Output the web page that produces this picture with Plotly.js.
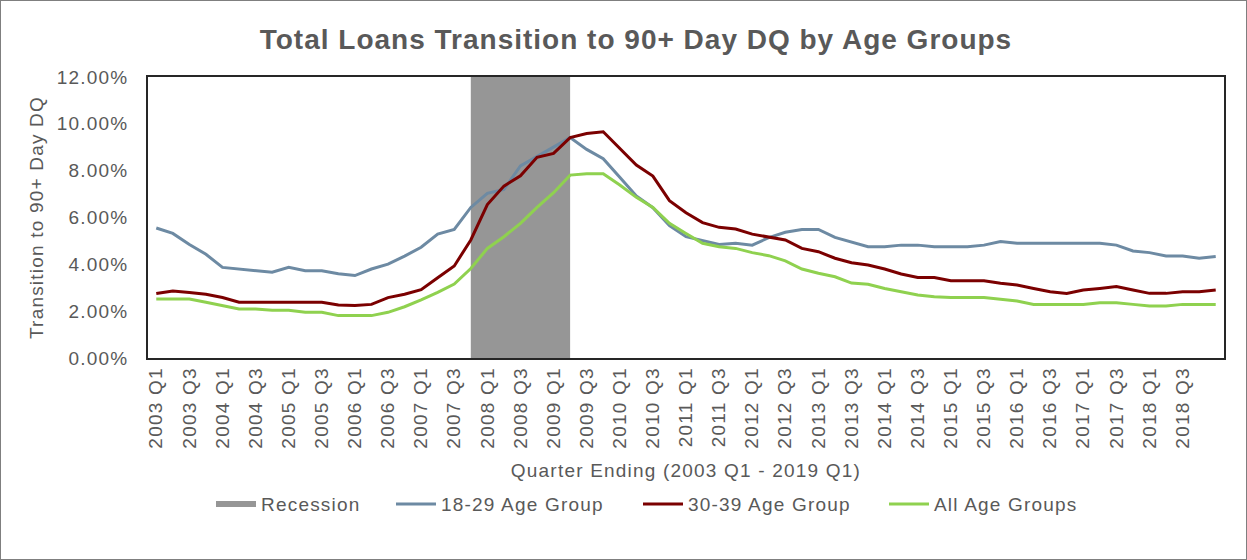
<!DOCTYPE html>
<html>
<head>
<meta charset="utf-8">
<script src="https://cdn.plot.ly/plotly-3.0.1.min.js"></script>
<style>
  html, body { margin: 0; padding: 0; background: #fff; }
  #chart { width: 1245px; height: 558px; border: 1px solid #7f7f7f; }
  svg text { letter-spacing: 1.2px; }
  svg text.gtitle { letter-spacing: 1px; }
</style>
</head>
<body>
<div id="chart"></div>
<script>
// Quarters 2003 Q1 .. 2019 Q1
const quarters = [];
for (let y = 2003; y <= 2019; y++) {
  for (let q = 1; q <= 4; q++) {
    if (y === 2019 && q > 1) break;
    quarters.push(y + " Q" + q);
  }
}

// Recession quarters (2007 Q4 - 2009 Q2), shaded full height
const recessionQuarters = ["2007 Q4","2008 Q1","2008 Q2","2008 Q3","2008 Q4","2009 Q1","2009 Q2"];
const recessionHeight = 12;

const age18to29 = [
  5.55, 5.32, 4.85, 4.43, 3.87, 3.80, 3.73, 3.66, 3.87, 3.73,
  3.73, 3.60, 3.52, 3.80, 4.01, 4.35, 4.73, 5.29, 5.49, 6.43,
  7.03, 7.20, 8.20, 8.60, 9.00, 9.41, 8.91, 8.51, 7.72, 6.92,
  6.42, 5.65, 5.18, 5.00, 4.85, 4.90, 4.82, 5.14, 5.37, 5.49,
  5.49, 5.15, 4.96, 4.75, 4.75, 4.82, 4.82, 4.75, 4.75, 4.75,
  4.82, 4.97, 4.90, 4.90, 4.90, 4.90, 4.90, 4.90, 4.82, 4.57,
  4.50, 4.36, 4.36, 4.26, 4.33
];

const age30to39 = [
  2.75, 2.86, 2.80, 2.72, 2.58, 2.38, 2.38, 2.38, 2.38, 2.38,
  2.38, 2.26, 2.24, 2.29, 2.58, 2.72, 2.92, 3.43, 3.93, 5.04,
  6.55, 7.34, 7.78, 8.57, 8.74, 9.41, 9.59, 9.66, 8.95, 8.24,
  7.77, 6.72, 6.20, 5.78, 5.58, 5.51, 5.29, 5.18, 5.04, 4.68,
  4.54, 4.26, 4.07, 3.97, 3.80, 3.59, 3.44, 3.44, 3.30, 3.30,
  3.30, 3.19, 3.12, 2.97, 2.83, 2.76, 2.90, 2.97, 3.05, 2.90,
  2.76, 2.76, 2.83, 2.83, 2.90
];

const allAges = [
  2.52, 2.52, 2.52, 2.38, 2.24, 2.09, 2.09, 2.04, 2.04, 1.95,
  1.95, 1.81, 1.81, 1.81, 1.95, 2.19, 2.48, 2.80, 3.16, 3.82,
  4.68, 5.18, 5.75, 6.43, 7.06, 7.81, 7.87, 7.87, 7.39, 6.86,
  6.43, 5.75, 5.32, 4.90, 4.75, 4.68, 4.50, 4.37, 4.15, 3.80,
  3.62, 3.47, 3.20, 3.15, 2.97, 2.83, 2.69, 2.62, 2.58, 2.58,
  2.58, 2.51, 2.43, 2.29, 2.29, 2.29, 2.29, 2.36, 2.36, 2.29,
  2.22, 2.22, 2.29, 2.29, 2.29
];

const yTickVals = [0, 2, 4, 6, 8, 10, 12];
const yTickText = ["0.00%", "2.00%", "4.00%", "6.00%", "8.00%", "10.00%", "12.00%"];
const xTickLabels = quarters.filter((q, i) => i % 2 === 0 && i < quarters.length - 1);

const recession = quarters.map(q => recessionQuarters.includes(q) ? recessionHeight : null);

const textColor = "#595959";
const fontFam = "Liberation Sans, Arial, sans-serif";

const traces = [
  {
    name: "Recession", x: quarters, y: recession, type: "scatter", mode: "none",
    fill: "tozeroy", fillcolor: "#969696", connectgaps: false, hoverinfo: "skip",
    legend: "legend"
  },
  {
    name: "18-29 Age Group", x: quarters, y: age18to29, type: "scatter", mode: "lines",
    line: { color: "#6d8aa3", width: 3 }, legend: "legend2"
  },
  {
    name: "30-39 Age Group", x: quarters, y: age30to39, type: "scatter", mode: "lines",
    line: { color: "#7b0000", width: 3 }, legend: "legend3"
  },
  {
    name: "All Age Groups", x: quarters, y: allAges, type: "scatter", mode: "lines",
    line: { color: "#8fd14f", width: 3 }, legend: "legend4"
  }
];

function legendAt(px) {
  return {
    orientation: "h", x: (px - 147) / 1076, xanchor: "left", y: -0.52, yanchor: "middle",
    font: { size: 19, color: textColor }, itemwidth: 40, bgcolor: "rgba(0,0,0,0)"
  };
}

const layout = {
  width: 1245, height: 558,
  margin: { l: 147, r: 22, t: 76, b: 201 },
  paper_bgcolor: "#ffffff", plot_bgcolor: "#ffffff",
  font: { family: fontFam, color: textColor, size: 19 },
  title: {
    text: "<b>Total Loans Transition to 90+ Day DQ by Age Groups</b>",
    font: { family: fontFam, size: 28, color: textColor },
    x: 0.51, xanchor: "center", y: 0.932, yanchor: "middle"
  },
  xaxis: {
    type: "category",
    range: [-0.5, quarters.length - 0.5],
    tickmode: "array", tickvals: xTickLabels, ticktext: xTickLabels,
    tickangle: -90, ticks: "", showgrid: false, zeroline: false,
    showline: true, mirror: true, linecolor: "#262626", linewidth: 1.5,
    tickfont: { size: 19, color: textColor }, automargin: true,
    title: { text: "Quarter Ending (2003 Q1 - 2019 Q1)", font: { size: 19, color: textColor }, standoff: 16 }
  },
  yaxis: {
    range: [0, 12], tickmode: "array", tickvals: yTickVals, ticktext: yTickText,
    ticks: "", showgrid: false, zeroline: false, ticklabelstandoff: 14,
    showline: true, mirror: true, linecolor: "#262626", linewidth: 1.5,
    tickfont: { size: 19, color: textColor },
    title: { text: "Transition to 90+ Day DQ", font: { size: 19, color: textColor }, standoff: 8 }
  },
  showlegend: true,
  legend: legendAt(210),
  legend2: legendAt(390),
  legend3: legendAt(637),
  legend4: legendAt(883)
};

Plotly.newPlot("chart", traces, layout, { displayModeBar: false, responsive: false });
</script>
</body>
</html>
